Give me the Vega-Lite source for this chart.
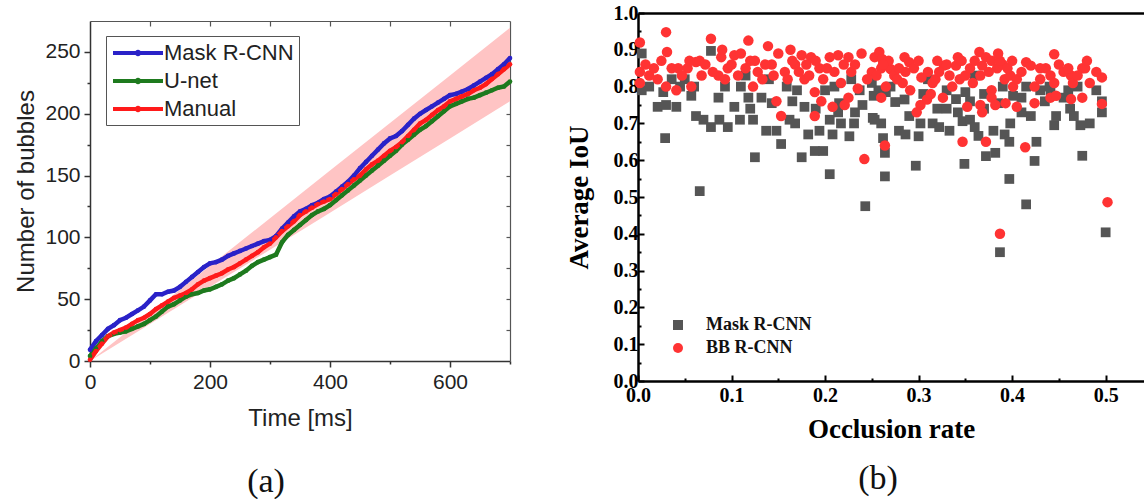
{
"$schema": "https://vega.github.io/schema/vega-lite/v6.json",
"background": "white",
"padding": {"left": 14, "top": 3, "right": 0, "bottom": 0},
"spacing": 46,
"align": "none",
"config": {"view": {"stroke": null}, "axis": {"grid": false}},
"resolve": {"scale": {"color": "independent", "shape": "independent"}, "legend": {"color": "independent", "shape": "independent"}},
"datasets": {
"band": [{"t":0,"lo":0,"hi":0},{"t":100,"lo":30,"hi":38.5},{"t":200,"lo":60,"hi":77},{"t":300,"lo":90,"hi":115.5},{"t":400,"lo":120,"hi":154},{"t":500,"lo":150,"hi":192.5},{"t":600,"lo":180,"hi":231},{"t":700,"lo":210,"hi":269.5}],
"curves": [
{"t":0,"s":"Mask R-CNN","n":9},{"t":10,"s":"Mask R-CNN","n":16},{"t":20,"s":"Mask R-CNN","n":21},{"t":30,"s":"Mask R-CNN","n":26},{"t":40,"s":"Mask R-CNN","n":29},{"t":50,"s":"Mask R-CNN","n":33},{"t":60,"s":"Mask R-CNN","n":35},{"t":70,"s":"Mask R-CNN","n":38},{"t":80,"s":"Mask R-CNN","n":41},{"t":90,"s":"Mask R-CNN","n":44},{"t":100,"s":"Mask R-CNN","n":49},{"t":110,"s":"Mask R-CNN","n":54},{"t":120,"s":"Mask R-CNN","n":54},{"t":130,"s":"Mask R-CNN","n":56},{"t":140,"s":"Mask R-CNN","n":57},{"t":150,"s":"Mask R-CNN","n":60},{"t":160,"s":"Mask R-CNN","n":64},{"t":170,"s":"Mask R-CNN","n":68},{"t":180,"s":"Mask R-CNN","n":72},{"t":190,"s":"Mask R-CNN","n":76},{"t":200,"s":"Mask R-CNN","n":79},{"t":210,"s":"Mask R-CNN","n":80},{"t":220,"s":"Mask R-CNN","n":82},{"t":230,"s":"Mask R-CNN","n":85},{"t":240,"s":"Mask R-CNN","n":87},{"t":250,"s":"Mask R-CNN","n":89},{"t":260,"s":"Mask R-CNN","n":91},{"t":270,"s":"Mask R-CNN","n":93},{"t":280,"s":"Mask R-CNN","n":95},{"t":290,"s":"Mask R-CNN","n":97},{"t":300,"s":"Mask R-CNN","n":98},{"t":310,"s":"Mask R-CNN","n":101},{"t":320,"s":"Mask R-CNN","n":107},{"t":330,"s":"Mask R-CNN","n":112},{"t":340,"s":"Mask R-CNN","n":117},{"t":350,"s":"Mask R-CNN","n":121},{"t":360,"s":"Mask R-CNN","n":123},{"t":370,"s":"Mask R-CNN","n":126},{"t":380,"s":"Mask R-CNN","n":128},{"t":390,"s":"Mask R-CNN","n":131},{"t":400,"s":"Mask R-CNN","n":133},{"t":410,"s":"Mask R-CNN","n":137},{"t":420,"s":"Mask R-CNN","n":141},{"t":430,"s":"Mask R-CNN","n":145},{"t":440,"s":"Mask R-CNN","n":150},{"t":450,"s":"Mask R-CNN","n":156},{"t":460,"s":"Mask R-CNN","n":161},{"t":470,"s":"Mask R-CNN","n":166},{"t":480,"s":"Mask R-CNN","n":171},{"t":490,"s":"Mask R-CNN","n":176},{"t":500,"s":"Mask R-CNN","n":180},{"t":510,"s":"Mask R-CNN","n":182},{"t":520,"s":"Mask R-CNN","n":186},{"t":530,"s":"Mask R-CNN","n":191},{"t":540,"s":"Mask R-CNN","n":196},{"t":550,"s":"Mask R-CNN","n":200},{"t":560,"s":"Mask R-CNN","n":203},{"t":570,"s":"Mask R-CNN","n":206},{"t":580,"s":"Mask R-CNN","n":209},{"t":590,"s":"Mask R-CNN","n":212},{"t":600,"s":"Mask R-CNN","n":215},{"t":610,"s":"Mask R-CNN","n":216},{"t":620,"s":"Mask R-CNN","n":218},{"t":630,"s":"Mask R-CNN","n":220},{"t":640,"s":"Mask R-CNN","n":223},{"t":650,"s":"Mask R-CNN","n":226},{"t":660,"s":"Mask R-CNN","n":229},{"t":670,"s":"Mask R-CNN","n":232},{"t":680,"s":"Mask R-CNN","n":236},{"t":690,"s":"Mask R-CNN","n":240},{"t":700,"s":"Mask R-CNN","n":245},
{"t":0,"s":"U-net","n":4},{"t":10,"s":"U-net","n":10},{"t":20,"s":"U-net","n":16},{"t":30,"s":"U-net","n":20},{"t":40,"s":"U-net","n":22},{"t":50,"s":"U-net","n":23},{"t":60,"s":"U-net","n":24},{"t":70,"s":"U-net","n":26},{"t":80,"s":"U-net","n":28},{"t":90,"s":"U-net","n":30},{"t":100,"s":"U-net","n":33},{"t":110,"s":"U-net","n":36},{"t":120,"s":"U-net","n":40},{"t":130,"s":"U-net","n":44},{"t":140,"s":"U-net","n":46},{"t":150,"s":"U-net","n":49},{"t":160,"s":"U-net","n":52},{"t":170,"s":"U-net","n":54},{"t":180,"s":"U-net","n":55},{"t":190,"s":"U-net","n":57},{"t":200,"s":"U-net","n":58},{"t":210,"s":"U-net","n":60},{"t":220,"s":"U-net","n":62},{"t":230,"s":"U-net","n":65},{"t":240,"s":"U-net","n":67},{"t":250,"s":"U-net","n":70},{"t":260,"s":"U-net","n":73},{"t":270,"s":"U-net","n":77},{"t":280,"s":"U-net","n":80},{"t":290,"s":"U-net","n":82},{"t":300,"s":"U-net","n":84},{"t":310,"s":"U-net","n":86},{"t":320,"s":"U-net","n":96},{"t":330,"s":"U-net","n":102},{"t":340,"s":"U-net","n":106},{"t":350,"s":"U-net","n":110},{"t":360,"s":"U-net","n":114},{"t":370,"s":"U-net","n":118},{"t":380,"s":"U-net","n":121},{"t":390,"s":"U-net","n":123},{"t":400,"s":"U-net","n":126},{"t":410,"s":"U-net","n":130},{"t":420,"s":"U-net","n":134},{"t":430,"s":"U-net","n":138},{"t":440,"s":"U-net","n":142},{"t":450,"s":"U-net","n":146},{"t":460,"s":"U-net","n":150},{"t":470,"s":"U-net","n":154},{"t":480,"s":"U-net","n":158},{"t":490,"s":"U-net","n":162},{"t":500,"s":"U-net","n":166},{"t":510,"s":"U-net","n":170},{"t":520,"s":"U-net","n":175},{"t":530,"s":"U-net","n":179},{"t":540,"s":"U-net","n":183},{"t":550,"s":"U-net","n":187},{"t":560,"s":"U-net","n":190},{"t":570,"s":"U-net","n":194},{"t":580,"s":"U-net","n":198},{"t":590,"s":"U-net","n":202},{"t":600,"s":"U-net","n":206},{"t":610,"s":"U-net","n":208},{"t":620,"s":"U-net","n":210},{"t":630,"s":"U-net","n":212},{"t":640,"s":"U-net","n":213},{"t":650,"s":"U-net","n":215},{"t":660,"s":"U-net","n":217},{"t":670,"s":"U-net","n":219},{"t":680,"s":"U-net","n":221},{"t":690,"s":"U-net","n":222},{"t":700,"s":"U-net","n":226},
{"t":0,"s":"Manual","n":1},{"t":10,"s":"Manual","n":8},{"t":20,"s":"Manual","n":14},{"t":30,"s":"Manual","n":20},{"t":40,"s":"Manual","n":23},{"t":50,"s":"Manual","n":25},{"t":60,"s":"Manual","n":27},{"t":70,"s":"Manual","n":30},{"t":80,"s":"Manual","n":33},{"t":90,"s":"Manual","n":35},{"t":100,"s":"Manual","n":38},{"t":110,"s":"Manual","n":42},{"t":120,"s":"Manual","n":45},{"t":130,"s":"Manual","n":48},{"t":140,"s":"Manual","n":51},{"t":150,"s":"Manual","n":53},{"t":160,"s":"Manual","n":55},{"t":170,"s":"Manual","n":58},{"t":180,"s":"Manual","n":62},{"t":190,"s":"Manual","n":65},{"t":200,"s":"Manual","n":67},{"t":210,"s":"Manual","n":69},{"t":220,"s":"Manual","n":71},{"t":230,"s":"Manual","n":74},{"t":240,"s":"Manual","n":76},{"t":250,"s":"Manual","n":79},{"t":260,"s":"Manual","n":82},{"t":270,"s":"Manual","n":85},{"t":280,"s":"Manual","n":88},{"t":290,"s":"Manual","n":92},{"t":300,"s":"Manual","n":95},{"t":310,"s":"Manual","n":100},{"t":320,"s":"Manual","n":105},{"t":330,"s":"Manual","n":109},{"t":340,"s":"Manual","n":113},{"t":350,"s":"Manual","n":118},{"t":360,"s":"Manual","n":121},{"t":370,"s":"Manual","n":124},{"t":380,"s":"Manual","n":127},{"t":390,"s":"Manual","n":129},{"t":400,"s":"Manual","n":131},{"t":410,"s":"Manual","n":135},{"t":420,"s":"Manual","n":139},{"t":430,"s":"Manual","n":143},{"t":440,"s":"Manual","n":147},{"t":450,"s":"Manual","n":150},{"t":460,"s":"Manual","n":155},{"t":470,"s":"Manual","n":159},{"t":480,"s":"Manual","n":162},{"t":490,"s":"Manual","n":166},{"t":500,"s":"Manual","n":170},{"t":510,"s":"Manual","n":173},{"t":520,"s":"Manual","n":177},{"t":530,"s":"Manual","n":182},{"t":540,"s":"Manual","n":187},{"t":550,"s":"Manual","n":192},{"t":560,"s":"Manual","n":195},{"t":570,"s":"Manual","n":199},{"t":580,"s":"Manual","n":203},{"t":590,"s":"Manual","n":206},{"t":600,"s":"Manual","n":210},{"t":610,"s":"Manual","n":212},{"t":620,"s":"Manual","n":214},{"t":630,"s":"Manual","n":216},{"t":640,"s":"Manual","n":219},{"t":650,"s":"Manual","n":221},{"t":660,"s":"Manual","n":224},{"t":670,"s":"Manual","n":228},{"t":680,"s":"Manual","n":232},{"t":690,"s":"Manual","n":236},{"t":700,"s":"Manual","n":240}
],
"mask": [
{"s":"Mask R-CNN","x":0.004,"y":0.89},{"s":"Mask R-CNN","x":0.004,"y":0.79},{"s":"Mask R-CNN","x":0.021,"y":0.745},{"s":"Mask R-CNN","x":0.03,"y":0.75},{"s":"Mask R-CNN","x":0.041,"y":0.745},{"s":"Mask R-CNN","x":0.029,"y":0.66},{"s":"Mask R-CNN","x":0.027,"y":0.785},{"s":"Mask R-CNN","x":0.036,"y":0.82},{"s":"Mask R-CNN","x":0.057,"y":0.775},{"s":"Mask R-CNN","x":0.062,"y":0.72},{"s":"Mask R-CNN","x":0.07,"y":0.71},{"s":"Mask R-CNN","x":0.078,"y":0.69},{"s":"Mask R-CNN","x":0.078,"y":0.897},{"s":"Mask R-CNN","x":0.087,"y":0.71},{"s":"Mask R-CNN","x":0.096,"y":0.69},{"s":"Mask R-CNN","x":0.066,"y":0.516},{"s":"Mask R-CNN","x":0.086,"y":0.77},{"s":"Mask R-CNN","x":0.093,"y":0.8},{"s":"Mask R-CNN","x":0.103,"y":0.745},{"s":"Mask R-CNN","x":0.109,"y":0.71},{"s":"Mask R-CNN","x":0.125,"y":0.608},{"s":"Mask R-CNN","x":0.118,"y":0.77},{"s":"Mask R-CNN","x":0.123,"y":0.71},{"s":"Mask R-CNN","x":0.132,"y":0.77},{"s":"Mask R-CNN","x":0.137,"y":0.68},{"s":"Mask R-CNN","x":0.143,"y":0.755},{"s":"Mask R-CNN","x":0.148,"y":0.68},{"s":"Mask R-CNN","x":0.153,"y":0.644},{"s":"Mask R-CNN","x":0.162,"y":0.71},{"s":"Mask R-CNN","x":0.159,"y":0.8},{"s":"Mask R-CNN","x":0.168,"y":0.7},{"s":"Mask R-CNN","x":0.175,"y":0.608},{"s":"Mask R-CNN","x":0.178,"y":0.745},{"s":"Mask R-CNN","x":0.182,"y":0.67},{"s":"Mask R-CNN","x":0.189,"y":0.625},{"s":"Mask R-CNN","x":0.198,"y":0.625},{"s":"Mask R-CNN","x":0.194,"y":0.68},{"s":"Mask R-CNN","x":0.2,"y":0.79},{"s":"Mask R-CNN","x":0.205,"y":0.562},{"s":"Mask R-CNN","x":0.205,"y":0.71},{"s":"Mask R-CNN","x":0.208,"y":0.67},{"s":"Mask R-CNN","x":0.214,"y":0.73},{"s":"Mask R-CNN","x":0.217,"y":0.7},{"s":"Mask R-CNN","x":0.226,"y":0.665},{"s":"Mask R-CNN","x":0.232,"y":0.73},{"s":"Mask R-CNN","x":0.228,"y":0.82},{"s":"Mask R-CNN","x":0.243,"y":0.475},{"s":"Mask R-CNN","x":0.251,"y":0.715},{"s":"Mask R-CNN","x":0.257,"y":0.79},{"s":"Mask R-CNN","x":0.262,"y":0.66},{"s":"Mask R-CNN","x":0.264,"y":0.556},{"s":"Mask R-CNN","x":0.264,"y":0.62},{"s":"Mask R-CNN","x":0.297,"y":0.585},{"s":"Mask R-CNN","x":0.279,"y":0.68},{"s":"Mask R-CNN","x":0.286,"y":0.67},{"s":"Mask R-CNN","x":0.3,"y":0.665},{"s":"Mask R-CNN","x":0.275,"y":0.758},{"s":"Mask R-CNN","x":0.285,"y":0.765},{"s":"Mask R-CNN","x":0.302,"y":0.7},{"s":"Mask R-CNN","x":0.26,"y":0.7},{"s":"Mask R-CNN","x":0.253,"y":0.71},{"s":"Mask R-CNN","x":0.252,"y":0.775},{"s":"Mask R-CNN","x":0.265,"y":0.785},{"s":"Mask R-CNN","x":0.215,"y":0.755},{"s":"Mask R-CNN","x":0.231,"y":0.7},{"s":"Mask R-CNN","x":0.32,"y":0.74},{"s":"Mask R-CNN","x":0.315,"y":0.7},{"s":"Mask R-CNN","x":0.322,"y":0.69},{"s":"Mask R-CNN","x":0.333,"y":0.68},{"s":"Mask R-CNN","x":0.34,"y":0.766},{"s":"Mask R-CNN","x":0.342,"y":0.73},{"s":"Mask R-CNN","x":0.347,"y":0.706},{"s":"Mask R-CNN","x":0.35,"y":0.785},{"s":"Mask R-CNN","x":0.349,"y":0.59},{"s":"Mask R-CNN","x":0.355,"y":0.71},{"s":"Mask R-CNN","x":0.36,"y":0.69},{"s":"Mask R-CNN","x":0.364,"y":0.666},{"s":"Mask R-CNN","x":0.372,"y":0.611},{"s":"Mask R-CNN","x":0.382,"y":0.62},{"s":"Mask R-CNN","x":0.38,"y":0.68},{"s":"Mask R-CNN","x":0.392,"y":0.67},{"s":"Mask R-CNN","x":0.397,"y":0.65},{"s":"Mask R-CNN","x":0.398,"y":0.7},{"s":"Mask R-CNN","x":0.397,"y":0.549},{"s":"Mask R-CNN","x":0.401,"y":0.775},{"s":"Mask R-CNN","x":0.415,"y":0.8},{"s":"Mask R-CNN","x":0.42,"y":0.72},{"s":"Mask R-CNN","x":0.424,"y":0.598},{"s":"Mask R-CNN","x":0.426,"y":0.65},{"s":"Mask R-CNN","x":0.441,"y":0.79},{"s":"Mask R-CNN","x":0.445,"y":0.695},{"s":"Mask R-CNN","x":0.447,"y":0.72},{"s":"Mask R-CNN","x":0.462,"y":0.74},{"s":"Mask R-CNN","x":0.466,"y":0.72},{"s":"Mask R-CNN","x":0.473,"y":0.695},{"s":"Mask R-CNN","x":0.475,"y":0.612},{"s":"Mask R-CNN","x":0.483,"y":0.7},{"s":"Mask R-CNN","x":0.496,"y":0.76},{"s":"Mask R-CNN","x":0.496,"y":0.73},{"s":"Mask R-CNN","x":0.387,"y":0.35},{"s":"Mask R-CNN","x":0.415,"y":0.48},{"s":"Mask R-CNN","x":0.5,"y":0.404},
{"s":"Mask R-CNN","x":0.012,"y":0.8},{"s":"Mask R-CNN","x":0.05,"y":0.82},{"s":"Mask R-CNN","x":0.11,"y":0.8},{"s":"Mask R-CNN","x":0.14,"y":0.82},{"s":"Mask R-CNN","x":0.17,"y":0.79},{"s":"Mask R-CNN","x":0.21,"y":0.8},{"s":"Mask R-CNN","x":0.237,"y":0.79},{"s":"Mask R-CNN","x":0.25,"y":0.81},{"s":"Mask R-CNN","x":0.27,"y":0.8},{"s":"Mask R-CNN","x":0.31,"y":0.82},{"s":"Mask R-CNN","x":0.33,"y":0.79},{"s":"Mask R-CNN","x":0.36,"y":0.83},{"s":"Mask R-CNN","x":0.37,"y":0.78},{"s":"Mask R-CNN","x":0.39,"y":0.8},{"s":"Mask R-CNN","x":0.41,"y":0.77},{"s":"Mask R-CNN","x":0.43,"y":0.79},{"s":"Mask R-CNN","x":0.44,"y":0.8},{"s":"Mask R-CNN","x":0.455,"y":0.77},{"s":"Mask R-CNN","x":0.47,"y":0.8},{"s":"Mask R-CNN","x":0.49,"y":0.79},{"s":"Mask R-CNN","x":0.06,"y":0.8},{"s":"Mask R-CNN","x":0.12,"y":0.74},{"s":"Mask R-CNN","x":0.19,"y":0.74},{"s":"Mask R-CNN","x":0.24,"y":0.75},{"s":"Mask R-CNN","x":0.29,"y":0.72},{"s":"Mask R-CNN","x":0.33,"y":0.74},{"s":"Mask R-CNN","x":0.37,"y":0.74},{"s":"Mask R-CNN","x":0.41,"y":0.73},{"s":"Mask R-CNN","x":0.435,"y":0.76},{"s":"Mask R-CNN","x":0.305,"y":0.78},{"s":"Mask R-CNN","x":0.045,"y":0.8},{"s":"Mask R-CNN","x":0.115,"y":0.83},{"s":"Mask R-CNN","x":0.165,"y":0.76},{"s":"Mask R-CNN","x":0.355,"y":0.76},{"s":"Mask R-CNN","x":0.385,"y":0.755},{"s":"Mask R-CNN","x":0.46,"y":0.79}
],
"bb": [
{"s":"BB R-CNN","x":0.002,"y":0.92},{"s":"BB R-CNN","x":0.002,"y":0.84},{"s":"BB R-CNN","x":0.002,"y":0.81},{"s":"BB R-CNN","x":0.03,"y":0.948},{"s":"BB R-CNN","x":0.031,"y":0.894},{"s":"BB R-CNN","x":0.025,"y":0.87},{"s":"BB R-CNN","x":0.021,"y":0.82},{"s":"BB R-CNN","x":0.03,"y":0.8},{"s":"BB R-CNN","x":0.041,"y":0.79},{"s":"BB R-CNN","x":0.036,"y":0.85},{"s":"BB R-CNN","x":0.043,"y":0.85},{"s":"BB R-CNN","x":0.053,"y":0.85},{"s":"BB R-CNN","x":0.057,"y":0.8},{"s":"BB R-CNN","x":0.062,"y":0.867},{"s":"BB R-CNN","x":0.068,"y":0.83},{"s":"BB R-CNN","x":0.066,"y":0.87},{"s":"BB R-CNN","x":0.078,"y":0.93},{"s":"BB R-CNN","x":0.089,"y":0.88},{"s":"BB R-CNN","x":0.086,"y":0.83},{"s":"BB R-CNN","x":0.096,"y":0.85},{"s":"BB R-CNN","x":0.103,"y":0.885},{"s":"BB R-CNN","x":0.11,"y":0.89},{"s":"BB R-CNN","x":0.107,"y":0.83},{"s":"BB R-CNN","x":0.118,"y":0.925},{"s":"BB R-CNN","x":0.123,"y":0.8},{"s":"BB R-CNN","x":0.128,"y":0.84},{"s":"BB R-CNN","x":0.139,"y":0.91},{"s":"BB R-CNN","x":0.143,"y":0.86},{"s":"BB R-CNN","x":0.15,"y":0.89},{"s":"BB R-CNN","x":0.148,"y":0.76},{"s":"BB R-CNN","x":0.153,"y":0.72},{"s":"BB R-CNN","x":0.163,"y":0.9},{"s":"BB R-CNN","x":0.157,"y":0.84},{"s":"BB R-CNN","x":0.168,"y":0.86},{"s":"BB R-CNN","x":0.175,"y":0.885},{"s":"BB R-CNN","x":0.178,"y":0.82},{"s":"BB R-CNN","x":0.185,"y":0.88},{"s":"BB R-CNN","x":0.189,"y":0.785},{"s":"BB R-CNN","x":0.189,"y":0.72},{"s":"BB R-CNN","x":0.196,"y":0.76},{"s":"BB R-CNN","x":0.194,"y":0.85},{"s":"BB R-CNN","x":0.205,"y":0.88},{"s":"BB R-CNN","x":0.208,"y":0.745},{"s":"BB R-CNN","x":0.214,"y":0.885},{"s":"BB R-CNN","x":0.217,"y":0.81},{"s":"BB R-CNN","x":0.221,"y":0.75},{"s":"BB R-CNN","x":0.225,"y":0.77},{"s":"BB R-CNN","x":0.228,"y":0.84},{"s":"BB R-CNN","x":0.235,"y":0.795},{"s":"BB R-CNN","x":0.239,"y":0.89},{"s":"BB R-CNN","x":0.242,"y":0.603},{"s":"BB R-CNN","x":0.25,"y":0.84},{"s":"BB R-CNN","x":0.253,"y":0.88},{"s":"BB R-CNN","x":0.258,"y":0.894},{"s":"BB R-CNN","x":0.26,"y":0.77},{"s":"BB R-CNN","x":0.264,"y":0.64},{"s":"BB R-CNN","x":0.265,"y":0.8},{"s":"BB R-CNN","x":0.261,"y":0.875},{"s":"BB R-CNN","x":0.26,"y":0.85},{"s":"BB R-CNN","x":0.27,"y":0.848},{"s":"BB R-CNN","x":0.274,"y":0.83},{"s":"BB R-CNN","x":0.279,"y":0.85},{"s":"BB R-CNN","x":0.283,"y":0.81},{"s":"BB R-CNN","x":0.29,"y":0.866},{"s":"BB R-CNN","x":0.291,"y":0.79},{"s":"BB R-CNN","x":0.303,"y":0.825},{"s":"BB R-CNN","x":0.302,"y":0.75},{"s":"BB R-CNN","x":0.298,"y":0.73},{"s":"BB R-CNN","x":0.309,"y":0.765},{"s":"BB R-CNN","x":0.313,"y":0.78},{"s":"BB R-CNN","x":0.315,"y":0.81},{"s":"BB R-CNN","x":0.318,"y":0.82},{"s":"BB R-CNN","x":0.327,"y":0.857},{"s":"BB R-CNN","x":0.326,"y":0.77},{"s":"BB R-CNN","x":0.333,"y":0.83},{"s":"BB R-CNN","x":0.34,"y":0.857},{"s":"BB R-CNN","x":0.342,"y":0.88},{"s":"BB R-CNN","x":0.344,"y":0.82},{"s":"BB R-CNN","x":0.35,"y":0.83},{"s":"BB R-CNN","x":0.352,"y":0.745},{"s":"BB R-CNN","x":0.347,"y":0.65},{"s":"BB R-CNN","x":0.358,"y":0.81},{"s":"BB R-CNN","x":0.365,"y":0.894},{"s":"BB R-CNN","x":0.368,"y":0.857},{"s":"BB R-CNN","x":0.372,"y":0.88},{"s":"BB R-CNN","x":0.366,"y":0.83},{"s":"BB R-CNN","x":0.366,"y":0.75},{"s":"BB R-CNN","x":0.368,"y":0.73},{"s":"BB R-CNN","x":0.372,"y":0.65},{"s":"BB R-CNN","x":0.378,"y":0.87},{"s":"BB R-CNN","x":0.378,"y":0.79},{"s":"BB R-CNN","x":0.378,"y":0.77},{"s":"BB R-CNN","x":0.384,"y":0.85},{"s":"BB R-CNN","x":0.382,"y":0.75},{"s":"BB R-CNN","x":0.39,"y":0.86},{"s":"BB R-CNN","x":0.392,"y":0.82},{"s":"BB R-CNN","x":0.393,"y":0.755},{"s":"BB R-CNN","x":0.398,"y":0.83},{"s":"BB R-CNN","x":0.401,"y":0.8},{"s":"BB R-CNN","x":0.405,"y":0.745},{"s":"BB R-CNN","x":0.415,"y":0.866},{"s":"BB R-CNN","x":0.42,"y":0.857},{"s":"BB R-CNN","x":0.414,"y":0.635},{"s":"BB R-CNN","x":0.424,"y":0.8},{"s":"BB R-CNN","x":0.424,"y":0.755},{"s":"BB R-CNN","x":0.436,"y":0.85},{"s":"BB R-CNN","x":0.445,"y":0.888},{"s":"BB R-CNN","x":0.441,"y":0.83},{"s":"BB R-CNN","x":0.445,"y":0.81},{"s":"BB R-CNN","x":0.441,"y":0.77},{"s":"BB R-CNN","x":0.447,"y":0.775},{"s":"BB R-CNN","x":0.463,"y":0.83},{"s":"BB R-CNN","x":0.465,"y":0.81},{"s":"BB R-CNN","x":0.463,"y":0.766},{"s":"BB R-CNN","x":0.475,"y":0.85},{"s":"BB R-CNN","x":0.475,"y":0.77},{"s":"BB R-CNN","x":0.478,"y":0.85},{"s":"BB R-CNN","x":0.483,"y":0.81},{"s":"BB R-CNN","x":0.496,"y":0.825},{"s":"BB R-CNN","x":0.496,"y":0.753},{"s":"BB R-CNN","x":0.502,"y":0.486},{"s":"BB R-CNN","x":0.387,"y":0.4},
{"s":"BB R-CNN","x":0.012,"y":0.83},{"s":"BB R-CNN","x":0.017,"y":0.85},{"s":"BB R-CNN","x":0.047,"y":0.83},{"s":"BB R-CNN","x":0.072,"y":0.86},{"s":"BB R-CNN","x":0.08,"y":0.84},{"s":"BB R-CNN","x":0.093,"y":0.82},{"s":"BB R-CNN","x":0.1,"y":0.86},{"s":"BB R-CNN","x":0.115,"y":0.85},{"s":"BB R-CNN","x":0.12,"y":0.87},{"s":"BB R-CNN","x":0.133,"y":0.82},{"s":"BB R-CNN","x":0.136,"y":0.86},{"s":"BB R-CNN","x":0.145,"y":0.83},{"s":"BB R-CNN","x":0.16,"y":0.82},{"s":"BB R-CNN","x":0.172,"y":0.84},{"s":"BB R-CNN","x":0.18,"y":0.86},{"s":"BB R-CNN","x":0.183,"y":0.83},{"s":"BB R-CNN","x":0.198,"y":0.82},{"s":"BB R-CNN","x":0.202,"y":0.85},{"s":"BB R-CNN","x":0.21,"y":0.84},{"s":"BB R-CNN","x":0.22,"y":0.86},{"s":"BB R-CNN","x":0.232,"y":0.86},{"s":"BB R-CNN","x":0.245,"y":0.82},{"s":"BB R-CNN","x":0.255,"y":0.83},{"s":"BB R-CNN","x":0.268,"y":0.87},{"s":"BB R-CNN","x":0.277,"y":0.82},{"s":"BB R-CNN","x":0.286,"y":0.84},{"s":"BB R-CNN","x":0.295,"y":0.85},{"s":"BB R-CNN","x":0.3,"y":0.87},{"s":"BB R-CNN","x":0.31,"y":0.84},{"s":"BB R-CNN","x":0.322,"y":0.84},{"s":"BB R-CNN","x":0.33,"y":0.86},{"s":"BB R-CNN","x":0.336,"y":0.8},{"s":"BB R-CNN","x":0.355,"y":0.85},{"s":"BB R-CNN","x":0.36,"y":0.87},{"s":"BB R-CNN","x":0.375,"y":0.84},{"s":"BB R-CNN","x":0.387,"y":0.87},{"s":"BB R-CNN","x":0.395,"y":0.85},{"s":"BB R-CNN","x":0.405,"y":0.82},{"s":"BB R-CNN","x":0.41,"y":0.84},{"s":"BB R-CNN","x":0.43,"y":0.82},{"s":"BB R-CNN","x":0.45,"y":0.86},{"s":"BB R-CNN","x":0.455,"y":0.84},{"s":"BB R-CNN","x":0.47,"y":0.83},{"s":"BB R-CNN","x":0.48,"y":0.87},{"s":"BB R-CNN","x":0.49,"y":0.84},{"s":"BB R-CNN","x":0.008,"y":0.86},{"s":"BB R-CNN","x":0.055,"y":0.87},{"s":"BB R-CNN","x":0.09,"y":0.9},{"s":"BB R-CNN","x":0.125,"y":0.87},{"s":"BB R-CNN","x":0.165,"y":0.87},{"s":"BB R-CNN","x":0.19,"y":0.87},{"s":"BB R-CNN","x":0.225,"y":0.88},{"s":"BB R-CNN","x":0.262,"y":0.86},{"s":"BB R-CNN","x":0.285,"y":0.88},{"s":"BB R-CNN","x":0.32,"y":0.87},{"s":"BB R-CNN","x":0.346,"y":0.87},{"s":"BB R-CNN","x":0.385,"y":0.89},{"s":"BB R-CNN","x":0.4,"y":0.87},{"s":"BB R-CNN","x":0.43,"y":0.85},{"s":"BB R-CNN","x":0.46,"y":0.85}
]
},
"hconcat": [
{
"width": 420, "height": 348,
"title": {"text": "(a)", "orient": "bottom", "font": "Liberation Serif", "fontSize": 34, "fontWeight": "normal", "color": "#111", "offset": 35, "dx": -34},
"layer": [
{
"data": {"name": "band"},
"mark": {"type": "area", "color": "#ffc4c4", "opacity": 1},
"encoding": {
"x": {"field": "t", "type": "quantitative", "scale": {"domain": [0, 700], "nice": false},
"axis": {"orient": "bottom", "values": [0,100,200,300,400,500,600,700], "labelExpr": "datum.value % 200 === 0 ? datum.label : ''", "labelOverlap": false, "tickSize": {"condition": {"test": "datum.value % 200 === 0", "value": 6}, "value": 3}, "title": "Time [ms]", "labelFlush": false, "labelFont": "Liberation Sans", "labelFontSize": 21, "labelColor": "#222", "labelPadding": 4, "titleFont": "Liberation Sans", "titleFontSize": 24, "titleFontWeight": "normal", "titleColor": "#222", "titlePadding": 14, "domainColor": "#333", "tickColor": "#333", "domainWidth": 1.5, "tickWidth": 1.5}},
"y": {"field": "lo", "type": "quantitative", "scale": {"domain": [0, 275], "nice": false, "range": [348, 8]},
"axis": {"orient": "left", "values": [0,25,50,75,100,125,150,175,200,225,250], "labelExpr": "datum.value % 50 === 0 ? datum.label : ''", "labelOverlap": false, "tickSize": {"condition": {"test": "datum.value % 50 === 0", "value": 6}, "value": 3}, "title": "Number of bubbles", "labelFont": "Liberation Sans", "labelFontSize": 21, "labelColor": "#222", "labelPadding": 4, "titleFont": "Liberation Sans", "titleFontSize": 24, "titleFontWeight": "normal", "titleColor": "#222", "titlePadding": 6, "domainColor": "#333", "tickColor": "#333", "domainWidth": 1.5, "tickWidth": 1.5}},
"y2": {"field": "hi"}
}
},
{
"data": {"name": "curves"},
"mark": {"type": "line", "strokeWidth": 4.5},
"encoding": {
"x": {"field": "t", "type": "quantitative",
"axis": {"orient": "top", "offset": -8, "values": [100,200,300,400,500,600], "labels": false, "title": null, "domain": true, "domainColor": "#555", "domainWidth": 1.2, "tickSize": -5, "tickColor": "#555", "tickWidth": 1.2}},
"y": {"field": "n", "type": "quantitative",
"axis": {"orient": "right", "values": [25,50,75,100,125,150,175,200,225,250], "labels": false, "title": null, "domain": true, "domainColor": "#555", "domainWidth": 1.2, "tickSize": -4, "tickColor": "#555", "tickWidth": 1.2}},
"color": {"field": "s", "type": "nominal", "sort": ["Mask R-CNN", "U-net", "Manual"], "scale": {"domain": ["Mask R-CNN", "U-net", "Manual"], "range": ["#2a22c8", "#1e7a1e", "#ff1a1a"]},
"legend": {"orient": "none", "legendX": 16, "legendY": 23, "title": null, "strokeColor": "#555", "fillColor": "white", "padding": 5, "labelFont": "Liberation Sans", "labelFontSize": 22, "labelFontWeight": "normal", "labelColor": "#222", "symbolType": "M-2.5,0L2.5,0M0.12,0A0.12,0.12,0,1,1,-0.12,0A0.12,0.12,0,1,1,0.12,0", "symbolStrokeWidth": 4, "symbolSize": 400, "symbolOffset": 15, "rowPadding": 5, "labelOffset": 14}}
}
},
{
"data": {"name": "curves"},
"mark": {"type": "point", "filled": true, "size": 22, "opacity": 1},
"encoding": {
"x": {"field": "t", "type": "quantitative", "axis": null},
"y": {"field": "n", "type": "quantitative", "axis": null},
"color": {"field": "s", "type": "nominal", "legend": null}
}
}
],
"resolve": {"axis": {"x": "independent", "y": "independent"}, "legend": {"color": "independent"}}
},
{
"width": 506, "height": 368,
"title": {"text": "(b)", "orient": "bottom", "font": "Liberation Serif", "fontSize": 34, "fontWeight": "normal", "color": "#111", "offset": 20, "dx": -13},
"layer": [
{
"data": {"name": "mask"},
"mark": {"type": "point", "shape": "square", "filled": true, "size": 95, "opacity": 1},
"encoding": {
"x": {"field": "x", "type": "quantitative", "scale": {"domain": [0, 0.541], "nice": false},
"axis": {"orient": "bottom", "values": [0,0.05,0.1,0.15,0.2,0.25,0.3,0.35,0.4,0.45,0.5], "labelExpr": "round(datum.value*100) % 10 === 0 ? format(datum.value, '.1f') : ''", "labelOverlap": false, "tickSize": {"condition": {"test": "round(datum.value*100) % 10 === 0", "value": -6}, "value": -3}, "tickColor": "black", "tickWidth": 2, "domainColor": "black", "domainWidth": 2.5, "labelFont": "Liberation Serif", "labelFontWeight": "bold", "labelFontSize": 20, "labelColor": "black", "labelPadding": 10, "labelFlush": false, "title": "Occlusion rate", "titleFont": "Liberation Serif", "titleFontSize": 27, "titleFontWeight": "bold", "titleColor": "black", "titlePadding": 8}},
"y": {"field": "y", "type": "quantitative", "scale": {"domain": [0, 1], "nice": false},
"axis": {"orient": "left", "values": [0,0.05,0.1,0.15,0.2,0.25,0.3,0.35,0.4,0.45,0.5,0.55,0.6,0.65,0.7,0.75,0.8,0.85,0.9,0.95,1.0], "labelExpr": "round(datum.value*100) % 10 === 0 ? format(datum.value, '.1f') : ''", "labelOverlap": false, "tickSize": {"condition": {"test": "round(datum.value*100) % 10 === 0", "value": -6}, "value": -3}, "tickColor": "black", "tickWidth": 2, "domainColor": "black", "domainWidth": 2.5, "labelFont": "Liberation Serif", "labelFontWeight": "bold", "labelFontSize": 20, "labelColor": "black", "labelPadding": 6, "title": "Average IoU", "titleFont": "Liberation Serif", "titleFontSize": 27, "titleFontWeight": "bold", "titleColor": "black", "titlePadding": 20}},
"color": {"field": "s", "type": "nominal", "scale": {"domain": ["Mask R-CNN", "BB R-CNN"], "range": ["#555555", "#ff3333"]},
"legend": {"orient": "none", "legendX": 31, "legendY": 303, "title": null, "labelFont": "Liberation Serif", "labelFontSize": 18, "labelFontWeight": "bold", "labelColor": "#111", "symbolSize": 100, "rowPadding": 5, "labelOffset": 19, "padding": 0}},
"shape": {"field": "s", "type": "nominal", "scale": {"domain": ["Mask R-CNN", "BB R-CNN"], "range": ["square", "circle"]}}
}
},
{
"data": {"name": "bb"},
"mark": {"type": "point", "shape": "circle", "filled": true, "size": 110, "opacity": 1},
"encoding": {
"x": {"field": "x", "type": "quantitative",
"axis": {"orient": "top", "labels": false, "ticks": false, "title": null, "domainColor": "black", "domainWidth": 2.5}},
"y": {"field": "y", "type": "quantitative", "axis": null},
"color": {"field": "s", "type": "nominal"},
"shape": {"field": "s", "type": "nominal"}
}
}
],
"resolve": {"axis": {"x": "independent", "y": "independent"}}
}
]
}
